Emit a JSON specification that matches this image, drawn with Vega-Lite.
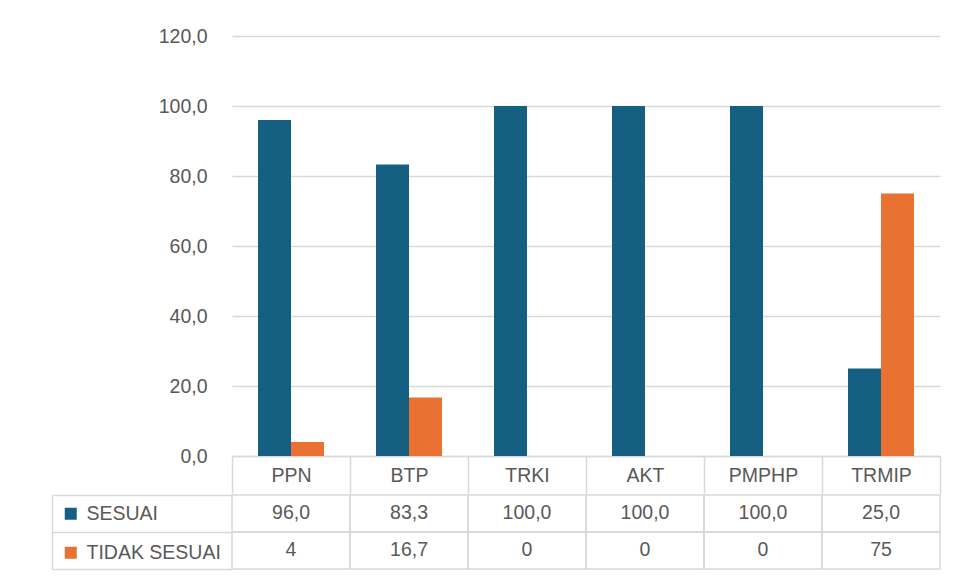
{
  "$schema": "https://vega.github.io/schema/vega-lite/v6.json",
  "padding": {"left": 51, "top": 26, "right": 13, "bottom": 5},
  "background": "white",
  "config": {
    "view": {"stroke": null},
    "font": "Liberation Sans",
    "locale": {"number": {"decimal": ",", "thousands": ".", "grouping": [3], "currency": ["", ""]}}
  },
  "data": {"values": [
    {"cat": "PPN", "series": "SESUAI", "value": 96.0},
    {"cat": "PPN", "series": "TIDAK SESUAI", "value": 4},
    {"cat": "BTP", "series": "SESUAI", "value": 83.3},
    {"cat": "BTP", "series": "TIDAK SESUAI", "value": 16.7},
    {"cat": "TRKI", "series": "SESUAI", "value": 100.0},
    {"cat": "TRKI", "series": "TIDAK SESUAI", "value": 0},
    {"cat": "AKT", "series": "SESUAI", "value": 100.0},
    {"cat": "AKT", "series": "TIDAK SESUAI", "value": 0},
    {"cat": "PMPHP", "series": "SESUAI", "value": 100.0},
    {"cat": "PMPHP", "series": "TIDAK SESUAI", "value": 0},
    {"cat": "TRMIP", "series": "SESUAI", "value": 25.0},
    {"cat": "TRMIP", "series": "TIDAK SESUAI", "value": 75}
  ]},
  "resolve": {"scale": {"x": "independent", "y": "independent", "color": "shared"}, "legend": {"color": "independent"}},
  "spacing": 0,
  "vconcat": [
    {
      "width": 708,
      "height": 420,
      "mark": {"type": "bar"},
      "encoding": {
        "x": {"field": "cat", "type": "nominal", "sort": null,
          "scale": {"paddingInner": 0, "paddingOuter": 0},
          "axis": {"title": null, "labelAngle": 0, "domainColor": "#d9d9d9", "domainWidth": 1.5, "tickColor": "#d9d9d9", "tickWidth": 1.5, "tickSize": 37, "tickBand": "extent", "labelFontSize": 19.5, "labelColor": "#595959", "labelPadding": -27, "grid": false}},
        "xOffset": {"field": "series", "type": "nominal", "scale": {"paddingInner": 0, "paddingOuter": 0.788}},
        "y": {"field": "value", "type": "quantitative", "scale": {"domain": [0, 120]},
          "axis": {"title": null, "values": [0, 20, 40, 60, 80, 100, 120], "format": ".1f", "domain": false, "ticks": false, "labelPadding": 25, "labelFontSize": 19.5, "labelColor": "#595959", "gridColor": "#d9d9d9", "gridWidth": 1.5}},
        "color": {"field": "series", "type": "nominal", "scale": {"domain": ["SESUAI", "TIDAK SESUAI"], "range": ["#156082", "#E97132"]}, "legend": null}
      }
    },
    {
      "width": 708,
      "height": 74,
      "encoding": {
        "x": {"field": "cat", "type": "nominal", "sort": null, "scale": {"paddingInner": 0, "paddingOuter": 0}, "axis": null},
        "y": {"field": "series", "type": "nominal", "scale": {"domain": ["SESUAI", "TIDAK SESUAI"], "paddingInner": 0, "paddingOuter": 0},
          "axis": {"title": null, "orient": "left", "offset": 180, "domainColor": "#d9d9d9", "domainWidth": 1.5, "tickColor": "#d9d9d9", "tickWidth": 1.5, "tickSize": -180, "tickBand": "extent", "labels": false, "grid": false}}
      },
      "layer": [
        {"mark": {"type": "rect", "filled": false, "color": "#d9d9d9", "strokeWidth": 1.5}},
        {"transform": [{"filter": "datum.series === 'SESUAI'"}],
         "mark": {"type": "text", "fontSize": 19.5, "color": "#595959", "dy": -1},
         "encoding": {"text": {"field": "value", "type": "quantitative", "format": ".1f"}}},
        {"transform": [{"filter": "datum.series === 'TIDAK SESUAI'"}],
         "mark": {"type": "text", "fontSize": 19.5, "color": "#595959", "dy": -1},
         "encoding": {"text": {"field": "value", "type": "quantitative", "format": "~f"}}},
        {"mark": {"type": "point", "filled": true, "opacity": 0, "shape": "square"},
         "encoding": {"color": {"field": "series", "type": "nominal",
           "legend": {"title": null, "orient": "none", "legendX": -171, "legendY": 9, "padding": 0, "rowPadding": 18, "labelFontSize": 19.5, "labelColor": "#595959", "labelOffset": 6, "symbolType": "square", "symbolSize": 144, "symbolOpacity": 1, "symbolStrokeWidth": 0}}}}
      ]
    }
  ]
}
